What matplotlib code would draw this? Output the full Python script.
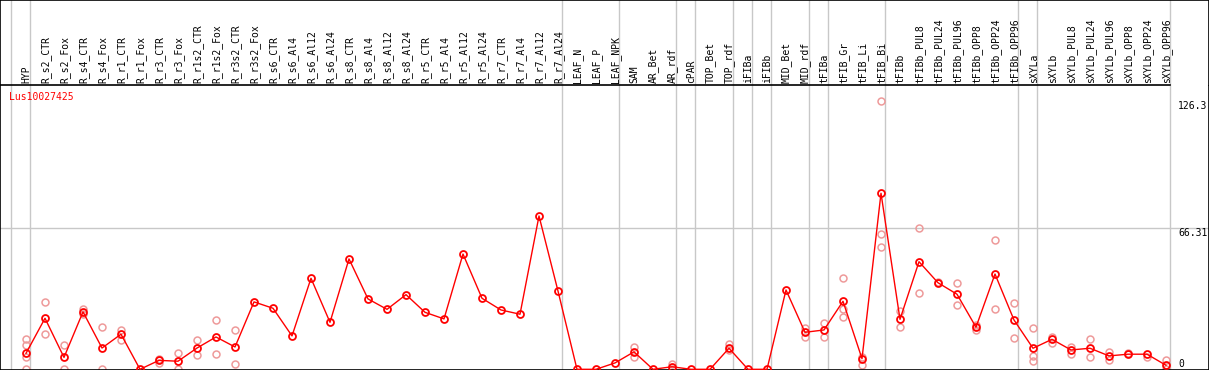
import matplotlib
matplotlib.use("Agg")
import matplotlib.pyplot as plt
import matplotlib.transforms as mtransforms

# sample names, in plot order
categories = ["HYP", "R_s2_CTR", "R_s2_Fox", "R_s4_CTR", "R_s4_Fox", "R_r1_CTR", "R_r1_Fox",
              "R_r3_CTR", "R_r3_Fox", "R_r1s2_CTR", "R_r1s2_Fox", "R_r3s2_CTR", "R_r3s2_Fox",
              "R_s6_CTR", "R_s6_Al4", "R_s6_Al12", "R_s6_Al24", "R_s8_CTR", "R_s8_Al4", "R_s8_Al12",
              "R_s8_Al24", "R_r5_CTR", "R_r5_Al4", "R_r5_Al12", "R_r5_Al24", "R_r7_CTR", "R_r7_Al4",
              "R_r7_Al12", "R_r7_Al24", "LEAF_N", "LEAF_P", "LEAF_NPK", "SAM", "AR_Bet", "AR_rdf",
              "cPAR", "TOP_Bet", "TOP_rdf", "iFIBa", "iFIBb", "MID_Bet", "MID_rdf", "tFIBa",
              "tFIB_Gr", "tFIB_Li", "tFIB_Bi", "tFIBb", "tFIBb_PUL8", "tFIBb_PUL24", "tFIBb_PUL96",
              "tFIBb_OPP8", "tFIBb_OPP24", "tFIBb_OPP96", "sXYLa", "sXYLb", "sXYLb_PUL8",
              "sXYLb_PUL24", "sXYLb_PUL96", "sXYLb_OPP8", "sXYLb_OPP24", "sXYLb_OPP96"]

# mean expression per sample
means = [7.5, 24.0, 5.6, 27.0, 10.0, 16.5, 0.0, 4.2, 3.8, 10.0,
         15.2, 10.5, 31.7, 28.7, 15.7, 42.8, 22.1, 51.9, 33.1, 28.2,
         35.1, 26.8, 23.7, 54.2, 33.4, 27.9, 25.9, 72.1, 36.8, 0.0,
         0.0, 3.0, 8.2, 0.0, 1.2, 0.0, 0.0, 9.9, 0.0, 0.0,
         37.3, 17.4, 18.5, 32.0, 5.0, 82.8, 23.5, 50.6, 40.7, 35.3,
         19.8, 44.8, 23.2, 9.9, 14.1, 9.1, 9.9, 6.3, 7.1, 7.1, 1.9]

# individual replicates (only the ones visible apart from the mean)
replicates = {
    "HYP": [14.1, 11.3, 5.6, 0.0],
    "R_s2_CTR": [31.5, 16.7],
    "R_s2_Fox": [11.6, 0.0],
    "R_s4_CTR": [28.3, 25.8],
    "R_s4_Fox": [19.7, 0.0],
    "R_r1_CTR": [18.5, 13.8],
    "R_r3_CTR": [4.7, 3.0],
    "R_r3_Fox": [7.6, 0.0],
    "R_r1s2_CTR": [13.8, 6.6],
    "R_r1s2_Fox": [23.2, 7.2],
    "R_r3s2_CTR": [18.3, 2.5],
    "SAM": [10.5, 5.6],
    "AR_rdf": [2.6, 0.0],
    "TOP_rdf": [11.9, 9.1],
    "MID_rdf": [19.3, 15.0],
    "tFIBa": [21.6, 15.3],
    "tFIB_Gr": [42.8, 28.2, 24.7],
    "tFIB_Li": [6.0, 2.2],
    "tFIB_Bi": [126.3, 63.5, 57.7],
    "tFIBb": [27.4, 19.8],
    "tFIBb_PUL8": [66.3, 35.7],
    "tFIBb_PUL24": [41.2],
    "tFIBb_PUL96": [40.4, 30.1],
    "tFIBb_OPP8": [20.9, 18.5],
    "tFIBb_OPP24": [60.7, 28.2],
    "tFIBb_OPP96": [31.0, 14.6],
    "sXYLa": [19.3, 6.3, 4.1],
    "sXYLb": [15.3, 12.5],
    "sXYLb_PUL8": [10.6, 7.2],
    "sXYLb_PUL24": [14.2, 5.6],
    "sXYLb_PUL96": [8.3, 4.4],
    "sXYLb_OPP8": [7.5],
    "sXYLb_OPP24": [5.9],
    "sXYLb_OPP96": [4.4, 0.0],
}

# first sample of each group -> gray separator before it
group_starts = ["HYP", "R_s2_CTR", "LEAF_N", "SAM", "cPAR", "TOP_Bet", "iFIBa", "iFIBb",
                "MID_Bet", "tFIBa", "tFIB_Gr", "tFIBb", "sXYLa", "sXYLb"]

gene = "Lus10027425"
y_labels = [126.3, 66.31, 0]

font = "DejaVu Sans Mono"
gray = "#c8c8c8"
W, H = 1209, 370
head_px = 85

fig = plt.figure(figsize=(W / 100, H / 100), dpi=100)
ax = fig.add_axes([0, 0, 1, (H - head_px) / H])
hax = fig.add_axes([0, (H - head_px) / H, 1, head_px / H], sharex=ax)

x = list(range(len(categories)))
ax.set_xlim(-26 / 19, (W - 26) / 19)
ax.set_ylim(-0.33, 133.7)

sep_off = 15 / 19
seps = [categories.index(g) - sep_off for g in group_starts] + [len(categories) - sep_off]
for s in seps:
    ax.axvline(s, color=gray, lw=1, zorder=1)
    hax.axvline(s, color=gray, lw=1, zorder=1)
ax.axhline(66.31, color=gray, lw=1, zorder=1)

# replicates
for name, vals in replicates.items():
    i = categories.index(name)
    ax.plot([i] * len(vals), vals, "o", ms=5, mfc="none", mec="#ee9a9a", mew=1.1, zorder=2)

ax.plot(x, means, "-o", color="#ff0000", lw=1, ms=5, mfc="none", mec="#ff0000", mew=1.3, zorder=3)

# frame
for sp in ["left", "bottom", "right"]:
    ax.spines[sp].set_color("black")
    ax.spines[sp].set_linewidth(1.2)
ax.spines["top"].set_visible(False)
for sp in ["left", "top", "right"]:
    hax.spines[sp].set_color("black")
    hax.spines[sp].set_linewidth(1.2)
hax.spines["bottom"].set_visible(False)
hax.set_ylim(0, 1)
hax.plot([ax.get_xlim()[0], seps[-1]], [0, 0], color="black", lw=1.2, clip_on=False, zorder=4)

for a in (ax, hax):
    a.set_xticks([])
    a.set_yticks([])

# sample names in the header
for i, c in enumerate(categories):
    hax.text(i + 0.03, 2 / head_px, c, rotation=90, ha="center", va="bottom",
             fontsize=7, family=font, color="black")

ax.text(9 / W, 1 - 12 / (H - head_px), gene, transform=ax.transAxes, ha="left", va="center",
        fontsize=7, family=font, color="#ff0000")

tr = mtransforms.blended_transform_factory(ax.transAxes, ax.transData)
for v in y_labels:
    ax.text(1178 / W, v, str(v), transform=tr, ha="left", va="top" if v > 0 else "bottom",
            fontsize=7, family=font, color="black")

fig.savefig("out.png", dpi=100)
